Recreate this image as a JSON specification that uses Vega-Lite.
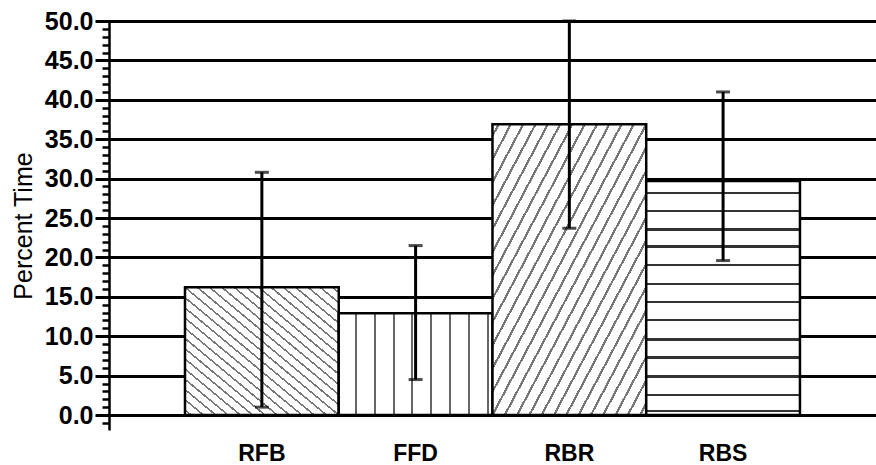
{
  "$schema": "https://vega.github.io/schema/vega-lite/v6.json",
  "autosize": {"type": "none"},
  "padding": {"left": 95, "top": 21, "right": 0, "bottom": 35},
  "width": 781,
  "height": 409,
  "background": "white",
  "config": {"view": {"stroke": null}},
  "data": {
    "values": [
      {"cond": "RFB", "pct": 16.2, "lo": 1.0, "hi": 30.8},
      {"cond": "FFD", "pct": 12.9, "lo": 4.5, "hi": 21.5},
      {"cond": "RBR", "pct": 36.9, "lo": 23.7, "hi": 50.0},
      {"cond": "RBS", "pct": 29.7, "lo": 19.6, "hi": 41.0}
    ]
  },
  "encoding": {
    "x": {
      "field": "cond",
      "type": "nominal",
      "sort": ["RFB", "FFD", "RBR", "RBS"],
      "scale": {"paddingInner": 0, "paddingOuter": 0.54, "align": 0.542},
      "axis": {
        "title": null,
        "labelAngle": 0,
        "labelFont": "Liberation Sans",
        "labelFontSize": 23,
        "labelFontWeight": "bold",
        "labelColor": "black",
        "labelPadding": 12,
        "ticks": false,
        "domain": false,
        "grid": false
      }
    },
    "y": {
      "field": "pct",
      "type": "quantitative",
      "title": "Percent Time",
      "scale": {"domain": [-1.9, 50], "nice": false, "zero": false},
      "axis": {
        "title": "Percent Time",
        "titleFont": "Liberation Sans",
        "titleFontSize": 25,
        "titleFontWeight": "normal",
        "titleColor": "black",
        "titlePadding": 8,
        "offset": -14,
        "tickCount": 52,
        "labelExpr": "datum.value % 5 === 0 ? format(datum.value, '.1f') : ''",
        "labelFont": "Liberation Sans",
        "labelFontSize": 25,
        "labelFontWeight": "bold",
        "labelColor": "black",
        "labelPadding": 9,
        "labelOverlap": false,
        "labelFlush": false,
        "tickSize": 7,
        "tickWidth": 2.5,
        "tickColor": "black",
        "domainColor": "black",
        "domainWidth": 2.5,
        "grid": true,
        "gridColor": "black",
        "gridWidth": 3,
        "gridOpacity": {"condition": {"test": "datum.value % 5 === 0", "value": 1}, "value": 0}
      }
    },
    "y2": {"datum": 0}
  },
  "layer": [
    {
      "transform": [{"filter": "datum.cond === 'RFB'"}],
      "mark": {
        "type": "bar",
        "stroke": "black",
        "strokeWidth": 2.5,
        "fill": {
          "gradient": "linear", "x1": 0, "y1": 1, "x2": 1, "y2": 0,
          "stops": [
            {"offset": 0.016, "color": "white"}, {"offset": 0.016, "color": "#777"}, {"offset": 0.024, "color": "#777"}, {"offset": 0.024, "color": "white"},
            {"offset": 0.056, "color": "white"}, {"offset": 0.056, "color": "#777"}, {"offset": 0.064, "color": "#777"}, {"offset": 0.064, "color": "white"},
            {"offset": 0.096, "color": "white"}, {"offset": 0.096, "color": "#777"}, {"offset": 0.104, "color": "#777"}, {"offset": 0.104, "color": "white"},
            {"offset": 0.136, "color": "white"}, {"offset": 0.136, "color": "#777"}, {"offset": 0.144, "color": "#777"}, {"offset": 0.144, "color": "white"},
            {"offset": 0.176, "color": "white"}, {"offset": 0.176, "color": "#777"}, {"offset": 0.184, "color": "#777"}, {"offset": 0.184, "color": "white"},
            {"offset": 0.216, "color": "white"}, {"offset": 0.216, "color": "#777"}, {"offset": 0.224, "color": "#777"}, {"offset": 0.224, "color": "white"},
            {"offset": 0.256, "color": "white"}, {"offset": 0.256, "color": "#777"}, {"offset": 0.264, "color": "#777"}, {"offset": 0.264, "color": "white"},
            {"offset": 0.296, "color": "white"}, {"offset": 0.296, "color": "#777"}, {"offset": 0.304, "color": "#777"}, {"offset": 0.304, "color": "white"},
            {"offset": 0.336, "color": "white"}, {"offset": 0.336, "color": "#777"}, {"offset": 0.344, "color": "#777"}, {"offset": 0.344, "color": "white"},
            {"offset": 0.376, "color": "white"}, {"offset": 0.376, "color": "#777"}, {"offset": 0.384, "color": "#777"}, {"offset": 0.384, "color": "white"},
            {"offset": 0.416, "color": "white"}, {"offset": 0.416, "color": "#777"}, {"offset": 0.424, "color": "#777"}, {"offset": 0.424, "color": "white"},
            {"offset": 0.456, "color": "white"}, {"offset": 0.456, "color": "#777"}, {"offset": 0.464, "color": "#777"}, {"offset": 0.464, "color": "white"},
            {"offset": 0.496, "color": "white"}, {"offset": 0.496, "color": "#777"}, {"offset": 0.504, "color": "#777"}, {"offset": 0.504, "color": "white"},
            {"offset": 0.536, "color": "white"}, {"offset": 0.536, "color": "#777"}, {"offset": 0.544, "color": "#777"}, {"offset": 0.544, "color": "white"},
            {"offset": 0.576, "color": "white"}, {"offset": 0.576, "color": "#777"}, {"offset": 0.584, "color": "#777"}, {"offset": 0.584, "color": "white"},
            {"offset": 0.616, "color": "white"}, {"offset": 0.616, "color": "#777"}, {"offset": 0.624, "color": "#777"}, {"offset": 0.624, "color": "white"},
            {"offset": 0.656, "color": "white"}, {"offset": 0.656, "color": "#777"}, {"offset": 0.664, "color": "#777"}, {"offset": 0.664, "color": "white"},
            {"offset": 0.696, "color": "white"}, {"offset": 0.696, "color": "#777"}, {"offset": 0.704, "color": "#777"}, {"offset": 0.704, "color": "white"},
            {"offset": 0.736, "color": "white"}, {"offset": 0.736, "color": "#777"}, {"offset": 0.744, "color": "#777"}, {"offset": 0.744, "color": "white"},
            {"offset": 0.776, "color": "white"}, {"offset": 0.776, "color": "#777"}, {"offset": 0.784, "color": "#777"}, {"offset": 0.784, "color": "white"},
            {"offset": 0.816, "color": "white"}, {"offset": 0.816, "color": "#777"}, {"offset": 0.824, "color": "#777"}, {"offset": 0.824, "color": "white"},
            {"offset": 0.856, "color": "white"}, {"offset": 0.856, "color": "#777"}, {"offset": 0.864, "color": "#777"}, {"offset": 0.864, "color": "white"},
            {"offset": 0.896, "color": "white"}, {"offset": 0.896, "color": "#777"}, {"offset": 0.904, "color": "#777"}, {"offset": 0.904, "color": "white"},
            {"offset": 0.936, "color": "white"}, {"offset": 0.936, "color": "#777"}, {"offset": 0.944, "color": "#777"}, {"offset": 0.944, "color": "white"},
            {"offset": 0.976, "color": "white"}, {"offset": 0.976, "color": "#777"}, {"offset": 0.984, "color": "#777"}, {"offset": 0.984, "color": "white"}
          ]
        }
      }
    },
    {
      "transform": [{"filter": "datum.cond === 'FFD'"}],
      "mark": {
        "type": "bar",
        "stroke": "black",
        "strokeWidth": 2.5,
        "fill": {
          "gradient": "linear", "x1": 0, "y1": 0, "x2": 1, "y2": 0,
          "stops": [
            {"offset": 0.104, "color": "white"}, {"offset": 0.104, "color": "#666"}, {"offset": 0.117, "color": "#666"}, {"offset": 0.117, "color": "white"},
            {"offset": 0.227, "color": "white"}, {"offset": 0.227, "color": "#666"}, {"offset": 0.240, "color": "#666"}, {"offset": 0.240, "color": "white"},
            {"offset": 0.350, "color": "white"}, {"offset": 0.350, "color": "#666"}, {"offset": 0.363, "color": "#666"}, {"offset": 0.363, "color": "white"},
            {"offset": 0.473, "color": "white"}, {"offset": 0.473, "color": "#666"}, {"offset": 0.486, "color": "#666"}, {"offset": 0.486, "color": "white"},
            {"offset": 0.596, "color": "white"}, {"offset": 0.596, "color": "#666"}, {"offset": 0.609, "color": "#666"}, {"offset": 0.609, "color": "white"},
            {"offset": 0.719, "color": "white"}, {"offset": 0.719, "color": "#666"}, {"offset": 0.732, "color": "#666"}, {"offset": 0.732, "color": "white"},
            {"offset": 0.842, "color": "white"}, {"offset": 0.842, "color": "#666"}, {"offset": 0.855, "color": "#666"}, {"offset": 0.855, "color": "white"},
            {"offset": 0.965, "color": "white"}, {"offset": 0.965, "color": "#666"}, {"offset": 0.978, "color": "#666"}, {"offset": 0.978, "color": "white"}
          ]
        }
      }
    },
    {
      "transform": [{"filter": "datum.cond === 'RBR'"}],
      "mark": {
        "type": "bar",
        "stroke": "black",
        "strokeWidth": 2.5,
        "fill": {
          "gradient": "linear", "x1": 0, "y1": 0, "x2": 1, "y2": 1,
          "stops": [
            {"offset": 0.016, "color": "white"}, {"offset": 0.016, "color": "#777"}, {"offset": 0.024, "color": "#777"}, {"offset": 0.024, "color": "white"},
            {"offset": 0.056, "color": "white"}, {"offset": 0.056, "color": "#777"}, {"offset": 0.064, "color": "#777"}, {"offset": 0.064, "color": "white"},
            {"offset": 0.096, "color": "white"}, {"offset": 0.096, "color": "#777"}, {"offset": 0.104, "color": "#777"}, {"offset": 0.104, "color": "white"},
            {"offset": 0.136, "color": "white"}, {"offset": 0.136, "color": "#777"}, {"offset": 0.144, "color": "#777"}, {"offset": 0.144, "color": "white"},
            {"offset": 0.176, "color": "white"}, {"offset": 0.176, "color": "#777"}, {"offset": 0.184, "color": "#777"}, {"offset": 0.184, "color": "white"},
            {"offset": 0.216, "color": "white"}, {"offset": 0.216, "color": "#777"}, {"offset": 0.224, "color": "#777"}, {"offset": 0.224, "color": "white"},
            {"offset": 0.256, "color": "white"}, {"offset": 0.256, "color": "#777"}, {"offset": 0.264, "color": "#777"}, {"offset": 0.264, "color": "white"},
            {"offset": 0.296, "color": "white"}, {"offset": 0.296, "color": "#777"}, {"offset": 0.304, "color": "#777"}, {"offset": 0.304, "color": "white"},
            {"offset": 0.336, "color": "white"}, {"offset": 0.336, "color": "#777"}, {"offset": 0.344, "color": "#777"}, {"offset": 0.344, "color": "white"},
            {"offset": 0.376, "color": "white"}, {"offset": 0.376, "color": "#777"}, {"offset": 0.384, "color": "#777"}, {"offset": 0.384, "color": "white"},
            {"offset": 0.416, "color": "white"}, {"offset": 0.416, "color": "#777"}, {"offset": 0.424, "color": "#777"}, {"offset": 0.424, "color": "white"},
            {"offset": 0.456, "color": "white"}, {"offset": 0.456, "color": "#777"}, {"offset": 0.464, "color": "#777"}, {"offset": 0.464, "color": "white"},
            {"offset": 0.496, "color": "white"}, {"offset": 0.496, "color": "#777"}, {"offset": 0.504, "color": "#777"}, {"offset": 0.504, "color": "white"},
            {"offset": 0.536, "color": "white"}, {"offset": 0.536, "color": "#777"}, {"offset": 0.544, "color": "#777"}, {"offset": 0.544, "color": "white"},
            {"offset": 0.576, "color": "white"}, {"offset": 0.576, "color": "#777"}, {"offset": 0.584, "color": "#777"}, {"offset": 0.584, "color": "white"},
            {"offset": 0.616, "color": "white"}, {"offset": 0.616, "color": "#777"}, {"offset": 0.624, "color": "#777"}, {"offset": 0.624, "color": "white"},
            {"offset": 0.656, "color": "white"}, {"offset": 0.656, "color": "#777"}, {"offset": 0.664, "color": "#777"}, {"offset": 0.664, "color": "white"},
            {"offset": 0.696, "color": "white"}, {"offset": 0.696, "color": "#777"}, {"offset": 0.704, "color": "#777"}, {"offset": 0.704, "color": "white"},
            {"offset": 0.736, "color": "white"}, {"offset": 0.736, "color": "#777"}, {"offset": 0.744, "color": "#777"}, {"offset": 0.744, "color": "white"},
            {"offset": 0.776, "color": "white"}, {"offset": 0.776, "color": "#777"}, {"offset": 0.784, "color": "#777"}, {"offset": 0.784, "color": "white"},
            {"offset": 0.816, "color": "white"}, {"offset": 0.816, "color": "#777"}, {"offset": 0.824, "color": "#777"}, {"offset": 0.824, "color": "white"},
            {"offset": 0.856, "color": "white"}, {"offset": 0.856, "color": "#777"}, {"offset": 0.864, "color": "#777"}, {"offset": 0.864, "color": "white"},
            {"offset": 0.896, "color": "white"}, {"offset": 0.896, "color": "#777"}, {"offset": 0.904, "color": "#777"}, {"offset": 0.904, "color": "white"},
            {"offset": 0.936, "color": "white"}, {"offset": 0.936, "color": "#777"}, {"offset": 0.944, "color": "#777"}, {"offset": 0.944, "color": "white"},
            {"offset": 0.976, "color": "white"}, {"offset": 0.976, "color": "#777"}, {"offset": 0.984, "color": "#777"}, {"offset": 0.984, "color": "white"}
          ]
        }
      }
    },
    {
      "transform": [{"filter": "datum.cond === 'RBS'"}],
      "mark": {
        "type": "bar",
        "stroke": "black",
        "strokeWidth": 2.5,
        "fill": {
          "gradient": "linear", "x1": 0, "y1": 0, "x2": 0, "y2": 1,
          "stops": [
            {"offset": 0.047, "color": "white"}, {"offset": 0.047, "color": "#333"}, {"offset": 0.057, "color": "#333"}, {"offset": 0.057, "color": "white"},
            {"offset": 0.124, "color": "white"}, {"offset": 0.124, "color": "#333"}, {"offset": 0.134, "color": "#333"}, {"offset": 0.134, "color": "white"},
            {"offset": 0.202, "color": "white"}, {"offset": 0.202, "color": "#333"}, {"offset": 0.212, "color": "#333"}, {"offset": 0.212, "color": "white"},
            {"offset": 0.275, "color": "white"}, {"offset": 0.275, "color": "#333"}, {"offset": 0.285, "color": "#333"}, {"offset": 0.285, "color": "white"},
            {"offset": 0.353, "color": "white"}, {"offset": 0.353, "color": "#333"}, {"offset": 0.363, "color": "#333"}, {"offset": 0.363, "color": "white"},
            {"offset": 0.435, "color": "white"}, {"offset": 0.435, "color": "#333"}, {"offset": 0.445, "color": "#333"}, {"offset": 0.445, "color": "white"},
            {"offset": 0.512, "color": "white"}, {"offset": 0.512, "color": "#333"}, {"offset": 0.522, "color": "#333"}, {"offset": 0.522, "color": "white"},
            {"offset": 0.590, "color": "white"}, {"offset": 0.590, "color": "#333"}, {"offset": 0.600, "color": "#333"}, {"offset": 0.600, "color": "white"},
            {"offset": 0.672, "color": "white"}, {"offset": 0.672, "color": "#333"}, {"offset": 0.682, "color": "#333"}, {"offset": 0.682, "color": "white"},
            {"offset": 0.749, "color": "white"}, {"offset": 0.749, "color": "#333"}, {"offset": 0.759, "color": "#333"}, {"offset": 0.759, "color": "white"},
            {"offset": 0.831, "color": "white"}, {"offset": 0.831, "color": "#333"}, {"offset": 0.841, "color": "#333"}, {"offset": 0.841, "color": "white"},
            {"offset": 0.909, "color": "white"}, {"offset": 0.909, "color": "#333"}, {"offset": 0.919, "color": "#333"}, {"offset": 0.919, "color": "white"},
            {"offset": 0.978, "color": "white"}, {"offset": 0.978, "color": "#333"}, {"offset": 0.988, "color": "#333"}, {"offset": 0.988, "color": "white"}
          ]
        }
      }
    },
    {
      "mark": {"type": "errorbar", "color": "black", "thickness": 3, "ticks": {"size": 14}},
      "encoding": {
        "y": {
          "field": "lo",
          "type": "quantitative",
          "title": "Percent Time",
          "axis": {
            "title": "Percent Time",
            "titleFont": "Liberation Sans",
            "titleFontSize": 25,
            "titleFontWeight": "normal",
            "titleColor": "black",
            "titlePadding": 8,
            "offset": -14,
            "tickCount": 52,
            "labelExpr": "datum.value % 5 === 0 ? format(datum.value, '.1f') : ''",
            "labelFont": "Liberation Sans",
            "labelFontSize": 25,
            "labelFontWeight": "bold",
            "labelColor": "black",
            "labelPadding": 9,
            "labelOverlap": false,
            "labelFlush": false,
            "tickSize": 7,
            "tickWidth": 2.5,
            "tickColor": "black",
            "domainColor": "black",
            "domainWidth": 2.5,
            "grid": true,
            "gridColor": "black",
            "gridWidth": 3,
            "gridOpacity": {"condition": {"test": "datum.value % 5 === 0", "value": 1}, "value": 0}
          }
        },
        "y2": {"field": "hi"}
      }
    }
  ]
}
